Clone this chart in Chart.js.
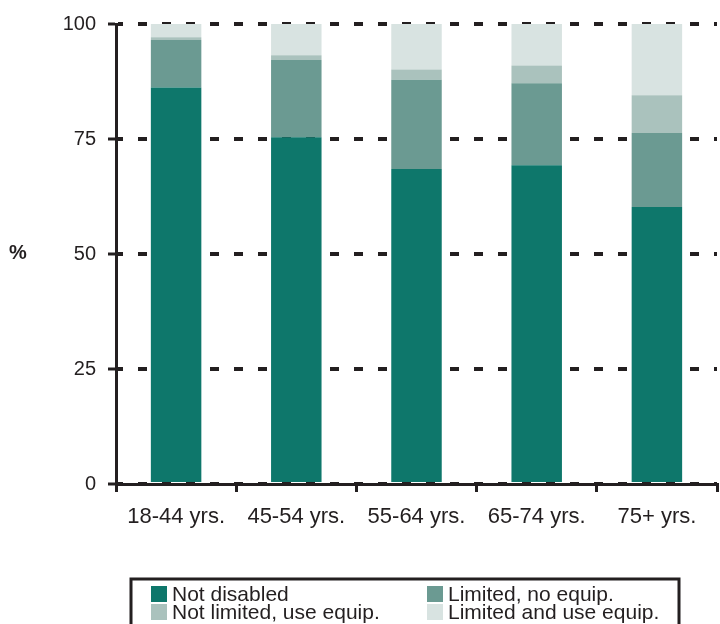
<!DOCTYPE html>
<html>
<head>
<meta charset="utf-8">
<script src="https://cdn.jsdelivr.net/npm/chart.js@4/dist/chart.umd.min.js"></script>
<style>
  html, body { margin: 0; padding: 0; background: #fff; }
  #wrap { width: 720px; height: 624px; position: relative; }
</style>
</head>
<body>
<div id="wrap"><canvas id="c" width="720" height="624"></canvas></div>
<script>
// Age groups along the x axis
const ageGroups = ['18-44 yrs.', '45-54 yrs.', '55-64 yrs.', '65-74 yrs.', '75+ yrs.'];

// Share of people in each group (%), stacked bottom to top
const notDisabled       = [86.2, 75.4, 68.5, 69.3, 60.2];
const limitedNoEquip    = [10.3, 16.8, 19.4, 17.8, 16.1];
const notLimitedEquip   = [0.6, 1.0, 2.2, 3.9, 8.2];
const limitedAndEquip   = [2.9, 6.8, 9.9, 9.0, 15.5];

// Y axis tick values
const yTicks = [0, 25, 50, 75, 100];

const seriesNames = ['Not disabled', 'Limited, no equip.', 'Not limited, use equip.', 'Limited and use equip.'];
const seriesColors = ['#0e776b', '#6b9a92', '#aac2bd', '#d8e3e1'];
const seriesValues = [notDisabled, limitedNoEquip, notLimitedEquip, limitedAndEquip];

const INK = '#231f20';
const FONT = "'Liberation Sans', Arial, sans-serif";

// Boxed two-column legend under the axis, plus the upright "%" axis label
const extras = {
  id: 'extras',
  afterDraw(chart) {
    const ctx = chart.ctx;
    ctx.save();
    // "%" label beside the y axis
    ctx.fillStyle = INK;
    ctx.font = 'bold 20px ' + FONT;
    ctx.textAlign = 'center';
    ctx.textBaseline = 'middle';
    ctx.fillText('%', 18, 253);

    // legend frame
    ctx.strokeStyle = INK;
    ctx.lineWidth = 3;
    ctx.strokeRect(131, 579, 548, 60);

    // legend entries, filled row by row
    ctx.font = '21px ' + FONT;
    ctx.textAlign = 'left';
    ctx.textBaseline = 'alphabetic';
    const colX = [151, 427];
    const rowY = [586, 604];
    chart.data.datasets.forEach((ds, i) => {
      const cx = colX[i % 2];
      const cy = rowY[Math.floor(i / 2)];
      ctx.fillStyle = ds.backgroundColor;
      ctx.fillRect(cx, cy, 16, 16);
      ctx.fillStyle = INK;
      ctx.fillText(ds.label, cx + 21, cy + 15);
    });
    ctx.restore();
  }
};

new Chart(document.getElementById('c'), {
  type: 'bar',
  data: {
    labels: ageGroups,
    datasets: seriesNames.map((name, i) => ({
      label: name,
      data: seriesValues[i],
      backgroundColor: seriesColors[i],
      borderWidth: 0,
      categoryPercentage: 1,
      barPercentage: 0.42
    }))
  },
  options: {
    responsive: false,
    animation: false,
    layout: { padding: { top: 22, right: 3, left: 0, bottom: 0 } },
    plugins: {
      legend: { display: false },
      tooltip: { enabled: false }
    },
    scales: {
      x: {
        stacked: true,
        afterFit(s) { s.height = 140; },
        grid: {
          display: true,
          drawOnChartArea: false,
          offset: true,
          color: INK,
          lineWidth: 3,
          tickLength: 8
        },
        border: { display: true, color: INK, width: 3 },
        ticks: {
          color: INK,
          font: { family: FONT, size: 22 },
          padding: 12,
          maxRotation: 0
        }
      },
      y: {
        stacked: true,
        min: 0,
        max: 100,
        afterFit(s) { s.width = 116; },
        afterBuildTicks(s) { s.ticks = yTicks.map(v => ({ value: v })); },
        grid: {
          color: INK,
          lineWidth: 4,
          tickLength: 8,
          tickWidth: 3,
          tickColor: INK,
          tickBorderDash: []
        },
        border: { display: true, color: INK, width: 3, dash: [9, 15], dashOffset: 4 },
        ticks: {
          color: INK,
          font: { family: FONT, size: 20 },
          padding: 12
        }
      }
    }
  },
  plugins: [extras]
});
</script>
</body>
</html>
